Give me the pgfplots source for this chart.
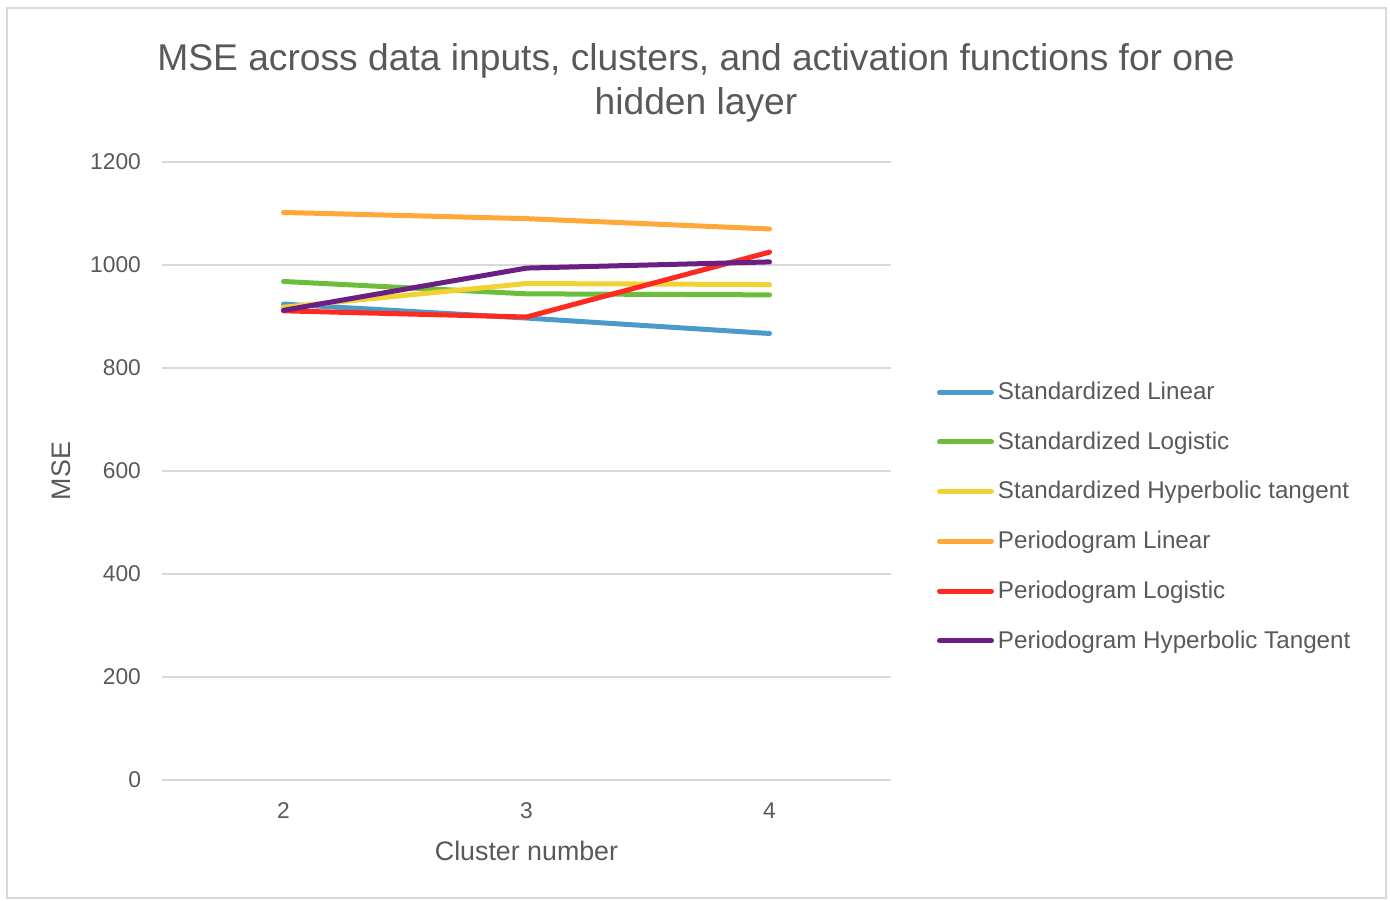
\documentclass[border=0pt]{standalone}
\usepackage{pgfplots}
\pgfplotsset{compat=1.18}
\usepackage{fontspec}
\setmainfont{Liberation Sans}
\definecolor{txt}{HTML}{595959}
\definecolor{gridc}{HTML}{D9D9D9}
\definecolor{cblue}{HTML}{4A9BCC}
\definecolor{cgreen}{HTML}{6CBD3C}
\definecolor{cyellow}{HTML}{F2D232}
\definecolor{corange}{HTML}{FFA83A}
\definecolor{cred}{HTML}{FF2A1F}
\definecolor{cpurple}{HTML}{6B1F84}
\begin{document}
\begin{tikzpicture}
\begin{scope}[x=0.5pt,y=-0.5pt,shift={(0pt,450pt)}]
\path[use as bounding box] (0,0) rectangle (1390,900);
\draw[gridc,line width=0.6pt] (7,8) rectangle (1386,898);
\node[txt,font=\fontsize{18.6}{22}\selectfont] at (696,61) {MSE across data inputs, clusters, and activation functions for one};
\node[txt,font=\fontsize{18.6}{22}\selectfont] at (696,105) {hidden layer};
\end{scope}
\begin{axis}[
  at={(81pt,60pt)}, anchor=south west,
  scale only axis, width=364.5pt, height=309pt,
  xmin=1.5, xmax=4.5, ymin=0, ymax=1200,
  xtick={2,3,4}, ytick={0,200,...,1200},
  axis line style={draw=none},
  major tick length=0pt,
  ymajorgrids, grid style={gridc,line width=0.6pt},
  tick label style={txt,font=\fontsize{11.4}{13}\selectfont},
  /pgf/number format/assume math mode=true,
  /pgf/number format/1000 sep={},
  yticklabel style={xshift=-7pt},
  xticklabel style={yshift=-8pt},
  xlabel={Cluster number}, ylabel={MSE},
  label style={txt,font=\fontsize{13.4}{15}\selectfont},
  xlabel style={yshift=-4pt},
  ylabel style={yshift=3pt},
  every axis plot/.append style={line width=2.5pt, line cap=round, line join=round},
  legend style={at={(1.0625,0.4264)}, anchor=west, draw=none, fill=none,
    font=\fontsize{12.1}{14}\selectfont, text=txt, row sep=10.6pt, inner sep=0pt},
  legend cell align=left,
  legend image code/.code={\draw[#1] (0pt,0pt) -- (26pt,0pt);},
]
\draw[gridc,line width=0.6pt] (axis cs:1.5,0) -- (axis cs:4.5,0);
\addplot[cblue] coordinates {(2,924) (3,897) (4,867)};
\addlegendentry{Standardized Linear}
\addplot[cgreen] coordinates {(2,968) (3,944) (4,942)};
\addlegendentry{Standardized Logistic}
\addplot[cyellow] coordinates {(2,918) (3,964) (4,962)};
\addlegendentry{Standardized Hyperbolic tangent}
\addplot[corange] coordinates {(2,1102) (3,1090) (4,1070)};
\addlegendentry{Periodogram Linear}
\addplot[cred] coordinates {(2,911) (3,899) (4,1025)};
\addlegendentry{Periodogram Logistic}
\addplot[cpurple] coordinates {(2,912) (3,994) (4,1006)};
\addlegendentry{Periodogram Hyperbolic Tangent}
\end{axis}
\end{tikzpicture}
\end{document}
